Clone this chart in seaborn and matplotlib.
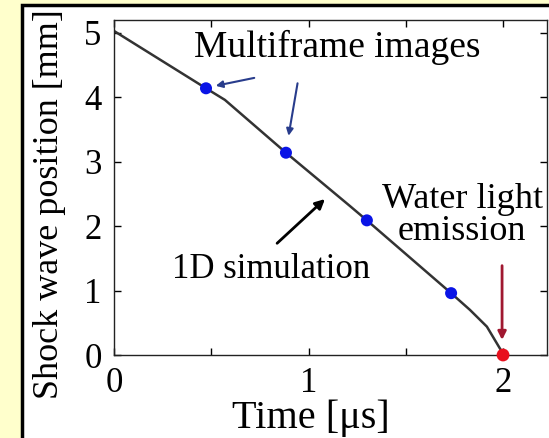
import matplotlib
matplotlib.use("Agg")
import matplotlib.pyplot as plt
from matplotlib.patches import Rectangle
import seaborn as sns
import pandas as pd

# Simulation curve (1D simulation)
sim_time = [0.0, 0.473, 0.57, 0.884, 1.21, 1.30, 1.733, 1.83, 1.917, 2.0]
sim_pos = [5.03, 4.14, 3.96, 3.14, 2.32, 2.09, 0.96, 0.70, 0.44, 0.02]
# Multiframe image points
frame_time = [0.473, 0.884, 1.30, 1.733]
frame_pos = [4.14, 3.14, 2.09, 0.96]
# Water light emission point
emit_time = [2.0]
emit_pos = [0.0]

x_ticks = [0, 0.5, 1, 1.5, 2]
x_labels = ["0", "", "1", "", "2"]
y_ticks = [0, 1, 2, 3, 4, 5]

sns.set_style("ticks")
plt.rcParams["font.family"] = ["Liberation Serif", "DejaVu Serif"]
plt.rcParams["text.color"] = "black"
plt.rcParams["axes.labelcolor"] = "black"

fig = plt.figure(figsize=(5.49, 4.38), dpi=100)
fig.patch.set_facecolor("#FFFFCC")
fig.add_artist(Rectangle((22/549, -0.1), 1.2, (438-5)/438 + 0.1,
                         transform=fig.transFigure, facecolor="white",
                         edgecolor="black", lw=2.5, zorder=0))
ax = fig.add_axes([114/549, (438-355)/438, (547-114)/549, (355-20)/438])
ax.set_facecolor("white")

sim_df = pd.DataFrame({"t": sim_time, "p": sim_pos})
frame_df = pd.DataFrame({"t": frame_time, "p": frame_pos})
emit_df = pd.DataFrame({"t": emit_time, "p": emit_pos})

sns.lineplot(data=sim_df, x="t", y="p", ax=ax, color="#333333", lw=1.8,
             sort=False, zorder=2)
sns.scatterplot(data=frame_df, x="t", y="p", ax=ax, color="#0a14e6", s=75,
                edgecolor="none", zorder=3, clip_on=False)
sns.scatterplot(data=emit_df, x="t", y="p", ax=ax, color="#e8101e", s=85,
                edgecolor="none", zorder=4, clip_on=False)

ax.set_xlim(0, 2.226)
ax.set_ylim(0, 5.2)
ax.set_xticks(x_ticks)
ax.set_xticklabels(x_labels)
ax.set_yticks(y_ticks)
ax.tick_params(direction="in", length=5, width=1, top=True, right=True,
               labelsize=25, colors="black")
ax.tick_params(axis="x", pad=9)
ax.tick_params(axis="y", pad=9)
for s in ax.spines.values():
    s.set_linewidth(1.0)
    s.set_color("#222222")

ax.set_xlabel("Time [μs]", fontsize=29)
ax.set_ylabel("Shock wave position [mm]", fontsize=26)
ax.xaxis.label.set_va("center")
ax.yaxis.label.set_va("center")
ax.xaxis.set_label_coords(0.455, -0.19)
ax.yaxis.set_label_coords(-0.149, 0.45)

ax.text(1.147, 4.78, "Multiframe images", fontsize=27, ha="center", va="center")
ax.text(0.807, 1.32, "1D simulation", fontsize=25, ha="center", va="center")
ax.text(1.79, 2.17, "Water light\nemission", fontsize=26, ha="center",
        va="center", linespacing=0.95)

arrow_blue = dict(arrowstyle="-|>", color="#283c8c", lw=1.5, mutation_scale=10)
ax.annotate("", xy=(0.509, 4.17), xytext=(0.735, 4.31), arrowprops=arrow_blue)
ax.annotate("", xy=(0.895, 3.36), xytext=(0.946, 4.26), arrowprops=arrow_blue)
ax.annotate("", xy=(1.095, 2.45), xytext=(0.828, 1.705),
            arrowprops=dict(arrowstyle="-|>", color="black", lw=2.0,
                            mutation_scale=14))
ax.annotate("", xy=(1.995, 0.19), xytext=(1.995, 1.43),
            arrowprops=dict(arrowstyle="-|>", color="#a01830", lw=2.0,
                            mutation_scale=12))

fig.savefig("out.png", dpi=100, facecolor=fig.get_facecolor())
